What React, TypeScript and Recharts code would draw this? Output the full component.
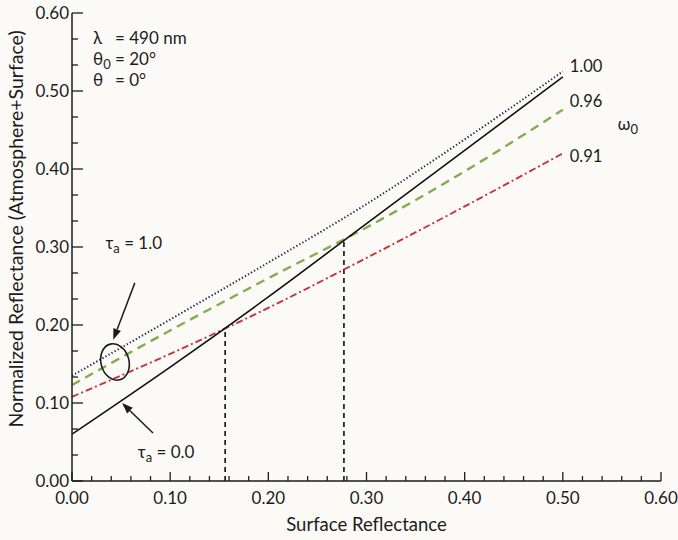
import React from 'react';
import { LineChart, Line, XAxis, YAxis, ReferenceLine, ReferenceDot, Label } from 'recharts';

// surface reflectance (x) and normalized reflectance for each case
const surface = [0, 0.1, 0.2, 0.3, 0.4, 0.5];
const tau0 = [0.06, 0.146, 0.236, 0.33, 0.424, 0.518];
const omega100 = [0.135, 0.207, 0.28, 0.355, 0.438, 0.525];
const omega096 = [0.123, 0.193, 0.26, 0.325, 0.397, 0.476];
const omega091 = [0.108, 0.163, 0.222, 0.286, 0.352, 0.42];

// crossing points marked with vertical dashed lines
const crossings = [
  { x: 0.156, y: 0.196 },
  { x: 0.277, y: 0.307 },
];

const xMajor = [0, 0.1, 0.2, 0.3, 0.4, 0.5, 0.6];
const yMajor = [0, 0.1, 0.2, 0.3, 0.4, 0.5, 0.6];
const xTicks = Array.from({ length: 31 }, (_, i) => i * 0.02);
const yTicks = Array.from({ length: 19 }, (_, i) => i / 30);

const data = surface.map((s, i) => ({
  s,
  t0: tau0[i],
  w100: omega100[i],
  w096: omega096[i],
  w091: omega091[i],
}));

const FONT = 'Lato, "Open Sans", sans-serif';
const INK = '#1c1c1c';

const isMajor = (v: number) => xMajor.some((m) => Math.abs(m - v) < 1e-6);

const BottomTick = ({ x, y, payload }: any) => {
  const major = isMajor(payload.value);
  return (
    <g>
      <line x1={x} y1={y} x2={x} y2={y - (major ? 9 : 5)} stroke={INK} strokeWidth={1.3} />
      {major && (
        <text x={x} y={y + 23} textAnchor="middle" fontSize={17} fill={INK} fontFamily={FONT}>
          {payload.value.toFixed(2)}
        </text>
      )}
    </g>
  );
};

const TopTick = ({ x, y, payload }: any) => {
  const major = isMajor(payload.value);
  return <line x1={x} y1={y} x2={x} y2={y + (major ? 9 : 5)} stroke={INK} strokeWidth={1.3} />;
};

const LeftTick = ({ x, y, payload }: any) => {
  const major = yMajor.some((m) => Math.abs(m - payload.value) < 1e-6);
  return (
    <g>
      <line x1={x} y1={y} x2={x + (major ? 11 : 6)} y2={y} stroke={INK} strokeWidth={1.3} />
      {major && (
        <text x={x - 3} y={y + 6} textAnchor="end" fontSize={17} fill={INK} fontFamily={FONT}>
          {payload.value.toFixed(2)}
        </text>
      )}
    </g>
  );
};

const RightTick = ({ x, y, payload }: any) => {
  const major = yMajor.some((m) => Math.abs(m - payload.value) < 1e-6);
  return <line x1={x} y1={y} x2={x - (major ? 11 : 6)} y2={y} stroke={INK} strokeWidth={1.3} />;
};

const Arrow = ({ x1, y1, x2, y2 }: any) => {
  const ang = Math.atan2(y2 - y1, x2 - x1);
  const len = 11;
  const w = 4;
  const bx = x2 - len * Math.cos(ang);
  const by = y2 - len * Math.sin(ang);
  const px = -Math.sin(ang) * w;
  const py = Math.cos(ang) * w;
  return (
    <g>
      <line x1={x1} y1={y1} x2={bx} y2={by} stroke={INK} strokeWidth={1.5} />
      <polygon points={`${x2},${y2} ${bx + px},${by + py} ${bx - px},${by - py}`} fill={INK} />
    </g>
  );
};

const textAt = (content: React.ReactNode, size = 16) => (p: any) => (
  <text x={p.cx} y={p.cy} fontSize={size} fill={INK} fontFamily={FONT}>
    {content}
  </text>
);

// symbol with an "= value" part starting at a fixed column
const paramAt = (sym: React.ReactNode, rest: string) => (p: any) => (
  <text x={p.cx} y={p.cy} fontSize={17} fill={INK} fontFamily={FONT}>
    {sym}
    <tspan x={p.cx + 22} y={p.cy}>{rest}</tspan>
  </text>
);

const Sub = ({ children }: any) => (
  <tspan fontSize={13} dy={4}>
    {children}
  </tspan>
);

const App = () => {
  return (
    <div style={{ width: 678, height: 540, background: '#fcfaf6' }}>
      <style>{`body{margin:0;background:#fcfaf6}`}</style>
      <LineChart width={678} height={540} data={data} margin={{ top: 13, right: 17, bottom: 0, left: 0 }}>
        <XAxis
          dataKey="s"
          type="number"
          domain={[0, 0.6]}
          ticks={xTicks}
          interval={0}
          tickSize={0}
          tickMargin={0}
          tick={<BottomTick />}
          height={59}
          stroke={INK}
          strokeWidth={1.5}
          allowDataOverflow
        >
          <Label
            value="Surface Reflectance"
            position="insideBottom"
            offset={9}
            style={{ fontSize: 18.5, fill: INK, fontFamily: FONT }}
          />
        </XAxis>
        <XAxis
          xAxisId="top"
          orientation="top"
          type="number"
          domain={[0, 0.6]}
          ticks={xTicks}
          interval={0}
          tickSize={0}
          tickMargin={0}
          tick={<TopTick />}
          height={0}
          stroke={INK}
          strokeWidth={1.5}
          allowDataOverflow
        />
        <YAxis
          type="number"
          domain={[0, 0.6]}
          ticks={yTicks}
          interval={0}
          tickSize={0}
          tickMargin={0}
          tick={<LeftTick />}
          width={72}
          stroke={INK}
          strokeWidth={1.5}
          allowDataOverflow
        >
          <Label
            content={() => (
              <text
                transform="translate(23,229) rotate(-90)"
                textAnchor="middle"
                fontSize={19.5}
                fill={INK}
                fontFamily={FONT}
              >
                Normalized Reflectance (Atmosphere+Surface)
              </text>
            )}
          />
        </YAxis>
        <YAxis
          yAxisId="right"
          orientation="right"
          type="number"
          domain={[0, 0.6]}
          ticks={yTicks}
          interval={0}
          tickSize={0}
          tickMargin={0}
          tick={<RightTick />}
          width={0}
          stroke={INK}
          strokeWidth={1.5}
          allowDataOverflow
        />

        {crossings.map((c, i) => (
          <ReferenceLine
            key={i}
            segment={[{ x: c.x, y: 0 }, { x: c.x, y: c.y }]}
            stroke={INK}
            strokeWidth={1.7}
            strokeDasharray="5 4"
          />
        ))}

        <Line dataKey="w100" type="monotone" stroke="#23263f" strokeWidth={2} strokeDasharray="1.3 2.2" dot={false} isAnimationActive={false} />
        <Line dataKey="w096" type="monotone" stroke="#7fae4f" strokeWidth={2.4} strokeDasharray="9 6" dot={false} isAnimationActive={false} />
        <Line dataKey="w091" type="monotone" stroke="#c8323a" strokeWidth={1.9} strokeDasharray="7 3 2 3" dot={false} isAnimationActive={false} />
        <Line dataKey="t0" type="monotone" stroke="#111" strokeWidth={1.6} dot={false} isAnimationActive={false} />

        {/* ellipse around the tau_a = 1.0 curves */}
        <ReferenceDot
          x={0.0438}
          y={0.1526}
          r={0}
          shape={(p: any) => (
            <ellipse
              cx={p.cx}
              cy={p.cy}
              rx={14}
              ry={18.5}
              transform={`rotate(-15 ${p.cx} ${p.cy})`}
              fill="none"
              stroke={INK}
              strokeWidth={1.6}
            />
          )}
        />
        <ReferenceLine segment={[{ x: 0.064, y: 0.254 }, { x: 0.042, y: 0.181 }]} shape={<Arrow />} />
        <ReferenceLine segment={[{ x: 0.0825, y: 0.0615 }, { x: 0.051, y: 0.1 }]} shape={<Arrow />} />

        <ReferenceDot x={0.034} y={0.297} r={0} shape={textAt(<>τ<Sub>a</Sub><tspan dy={-4}> = 1.0</tspan></>, 17)} />
        <ReferenceDot x={0.067} y={0.0295} r={0} shape={textAt(<>τ<Sub>a</Sub><tspan dy={-4}> = 0.0</tspan></>, 17)} />

        <ReferenceDot x={0.0214} y={0.56} r={0} shape={paramAt('λ', '= 490 nm')} />
        <ReferenceDot x={0.0214} y={0.533} r={0} shape={paramAt(<>θ<Sub>0</Sub></>, '= 20°')} />
        <ReferenceDot x={0.0214} y={0.506} r={0} shape={paramAt('θ', '= 0°')} />

        <ReferenceDot x={0.507} y={0.524} r={0} shape={textAt('1.00', 16.5)} />
        <ReferenceDot x={0.507} y={0.479} r={0} shape={textAt('0.96', 16.5)} />
        <ReferenceDot x={0.507} y={0.409} r={0} shape={textAt('0.91', 16.5)} />
        <ReferenceDot x={0.556} y={0.45} r={0} shape={textAt(<>ω<Sub>0</Sub></>, 16.5)} />
      </LineChart>
    </div>
  );
};

export default App;
